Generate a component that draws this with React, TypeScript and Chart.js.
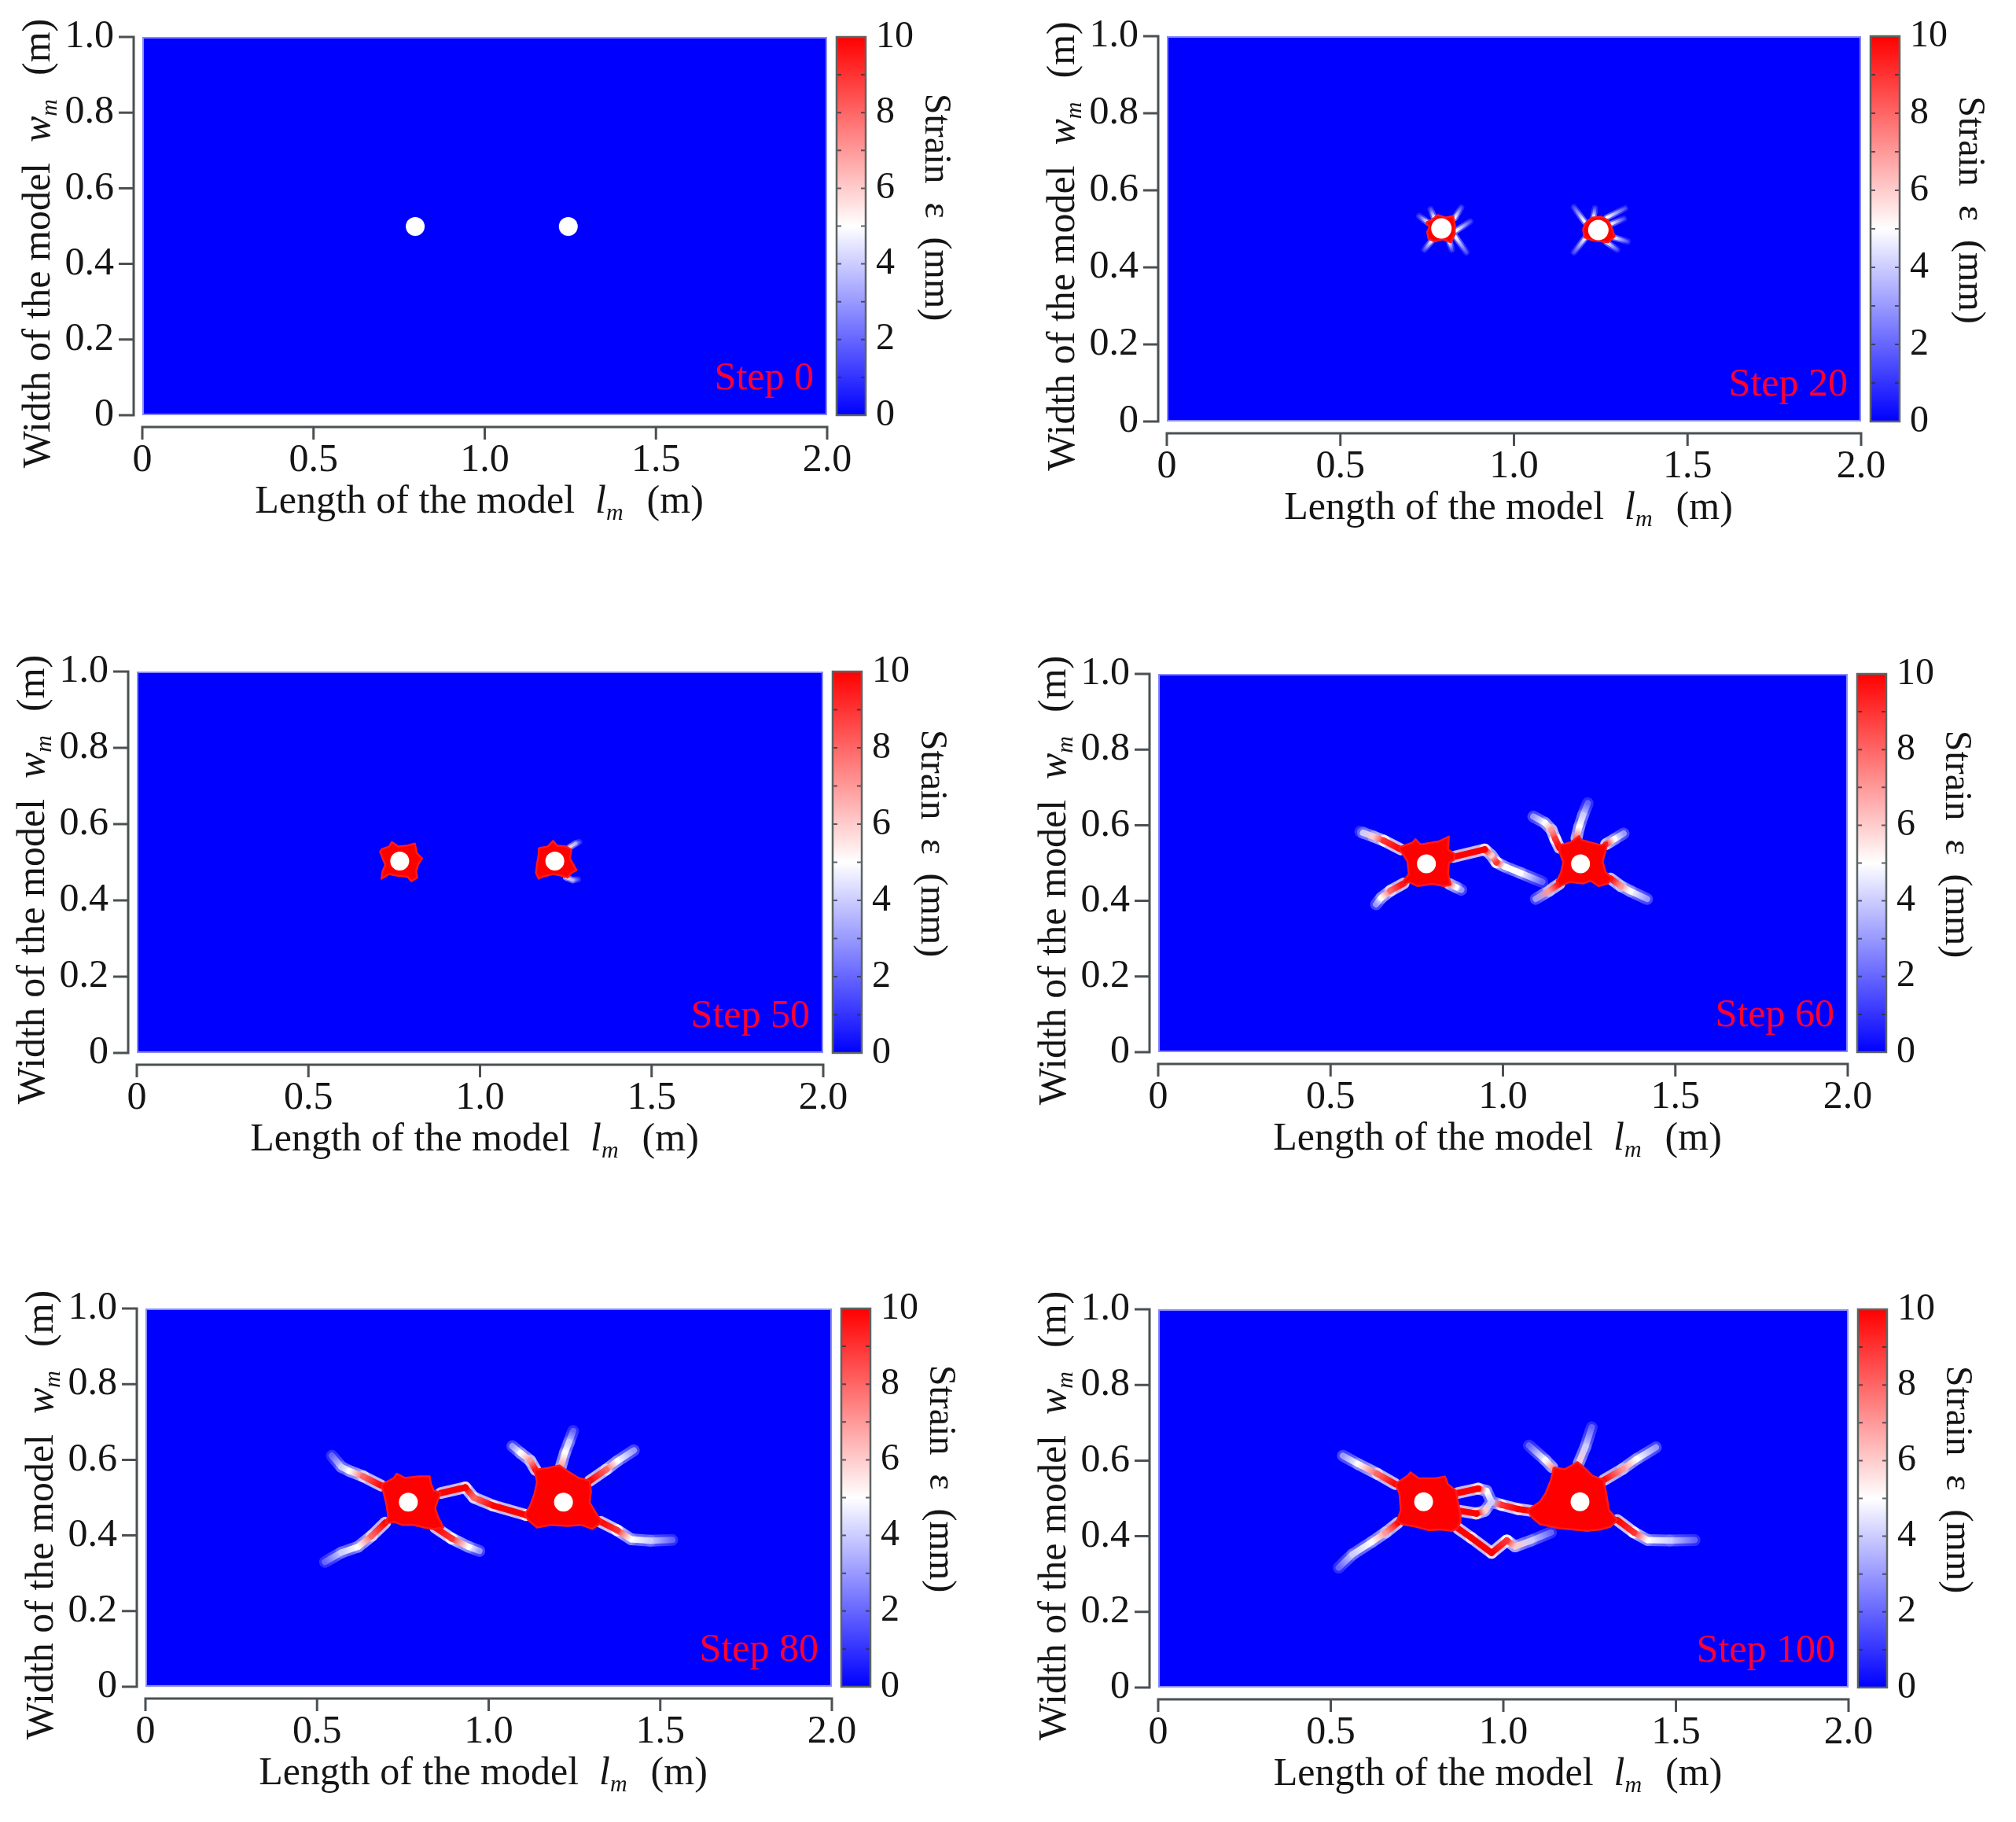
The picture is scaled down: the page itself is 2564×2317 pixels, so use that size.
import React, { useEffect, useRef } from 'react';
import { Chart, registerables } from 'chart.js';

Chart.register(...registerables);

const FONT = "'Liberation Serif', 'Times New Roman', Times, serif";
Chart.defaults.font.family = FONT;

// ---------------- data ----------------
const STEPS = ['Step 0', 'Step 20', 'Step 50', 'Step 60', 'Step 80', 'Step 100'];

const X_TICKS = [0, 0.5, 1, 1.5, 2];
const X_TICK_LABELS = ['0', '0.5', '1.0', '1.5', '2.0'];
const Y_TICKS = [0, 0.2, 0.4, 0.6, 0.8, 1];
const Y_TICK_LABELS = ['0', '0.2', '0.4', '0.6', '0.8', '1.0'];
const CB_TICKS = [0, 2, 4, 6, 8, 10];
const CB_MINOR = [1, 2, 3, 4, 5, 6, 7, 8, 9];

const HOLE_X = [
  [0.797, 1.244],
  [0.791, 1.243],
  [0.766, 1.218],
  [0.778, 1.225],
  [0.766, 1.218],
  [0.769, 1.222],
];
const HOLE_Y = [
  [0.499, 0.499],
  [0.501, 0.497],
  [0.503, 0.503],
  [0.498, 0.498],
  [0.488, 0.488],
  [0.491, 0.491],
];

// damaged (red) zones: polygons [x, y]
const ZONES_20 = [
  [[0.746, 0.516], [0.765, 0.524], [0.78, 0.536], [0.803, 0.529], [0.825, 0.533], [0.83, 0.509], [0.829, 0.485], [0.818, 0.465], [0.795, 0.473], [0.772, 0.467], [0.754, 0.474], [0.75, 0.492], [0.757, 0.505]],
  [[1.207, 0.516], [1.225, 0.529], [1.252, 0.531], [1.271, 0.522], [1.282, 0.502], [1.29, 0.48], [1.271, 0.465], [1.248, 0.468], [1.222, 0.471], [1.203, 0.478], [1.199, 0.499]],
];
const ZONES_50 = [
  [[0.713, 0.534], [0.735, 0.541], [0.743, 0.553], [0.762, 0.541], [0.789, 0.544], [0.81, 0.549], [0.816, 0.524], [0.831, 0.51], [0.819, 0.493], [0.814, 0.476], [0.817, 0.46], [0.8, 0.45], [0.789, 0.462], [0.758, 0.465], [0.735, 0.469], [0.713, 0.457], [0.716, 0.476], [0.724, 0.493], [0.709, 0.527]],
  [[1.171, 0.537], [1.197, 0.541], [1.213, 0.556], [1.224, 0.544], [1.251, 0.541], [1.266, 0.533], [1.262, 0.51], [1.281, 0.479], [1.266, 0.472], [1.255, 0.46], [1.236, 0.465], [1.213, 0.469], [1.182, 0.462], [1.171, 0.457], [1.163, 0.472], [1.167, 0.5], [1.171, 0.52]],
];
const ZONES_60 = [
  [[0.696, 0.54], [0.738, 0.554], [0.746, 0.563], [0.761, 0.549], [0.814, 0.557], [0.843, 0.57], [0.841, 0.536], [0.86, 0.524], [0.858, 0.509], [0.843, 0.5], [0.841, 0.471], [0.848, 0.443], [0.829, 0.439], [0.795, 0.445], [0.753, 0.439], [0.727, 0.45], [0.704, 0.436], [0.712, 0.453], [0.727, 0.471], [0.723, 0.505], [0.708, 0.526]],
  [[1.164, 0.547], [1.194, 0.554], [1.209, 0.563], [1.221, 0.571], [1.228, 0.561], [1.255, 0.554], [1.285, 0.547], [1.302, 0.554], [1.297, 0.529], [1.289, 0.505], [1.297, 0.477], [1.316, 0.46], [1.304, 0.446], [1.278, 0.439], [1.255, 0.453], [1.232, 0.446], [1.194, 0.45], [1.164, 0.439], [1.156, 0.453], [1.168, 0.474], [1.175, 0.502], [1.164, 0.529]],
];
const ZONES_80 = [
  [[0.687, 0.534], [0.724, 0.552], [0.732, 0.563], [0.756, 0.552], [0.796, 0.556], [0.828, 0.556], [0.832, 0.536], [0.84, 0.519], [0.86, 0.512], [0.852, 0.494], [0.844, 0.472], [0.852, 0.45], [0.86, 0.436], [0.868, 0.421], [0.84, 0.417], [0.812, 0.421], [0.78, 0.428], [0.748, 0.428], [0.724, 0.436], [0.699, 0.432], [0.707, 0.45], [0.703, 0.479], [0.695, 0.509]],
  [[1.133, 0.574], [1.17, 0.578], [1.206, 0.585], [1.23, 0.57], [1.262, 0.552], [1.294, 0.545], [1.298, 0.516], [1.294, 0.487], [1.314, 0.457], [1.33, 0.436], [1.302, 0.417], [1.27, 0.428], [1.23, 0.425], [1.182, 0.428], [1.141, 0.421], [1.117, 0.439], [1.105, 0.454], [1.121, 0.479], [1.133, 0.509], [1.141, 0.541]],
];
const ZONES_100 = [
  [[0.687, 0.538], [0.723, 0.56], [0.731, 0.569], [0.755, 0.553], [0.803, 0.553], [0.831, 0.558], [0.839, 0.538], [0.863, 0.52], [0.868, 0.491], [0.875, 0.462], [0.876, 0.44], [0.867, 0.421], [0.851, 0.414], [0.819, 0.418], [0.783, 0.416], [0.747, 0.425], [0.707, 0.432], [0.692, 0.441], [0.703, 0.469], [0.699, 0.513]],
  [[1.146, 0.582], [1.178, 0.577], [1.202, 0.589], [1.214, 0.596], [1.23, 0.585], [1.258, 0.56], [1.29, 0.549], [1.298, 0.513], [1.306, 0.469], [1.33, 0.443], [1.31, 0.425], [1.282, 0.418], [1.242, 0.414], [1.202, 0.418], [1.162, 0.421], [1.106, 0.432], [1.082, 0.451], [1.07, 0.469], [1.106, 0.491], [1.122, 0.513], [1.138, 0.549]],
];

// cracks: polylines [x, y, strain]
const CRACKS_20 = [
  [[0.753, 0.516, 5], [0.727, 0.533, 1.5]],
  [[0.77, 0.529, 5], [0.76, 0.551, 1.5]],
  [[0.829, 0.528, 5], [0.848, 0.555, 1.5]],
  [[0.833, 0.495, 5], [0.874, 0.519, 1.5]],
  [[0.831, 0.48, 5], [0.863, 0.439, 1.5]],
  [[0.814, 0.467, 5], [0.821, 0.446, 1.5]],
  [[0.763, 0.469, 5], [0.742, 0.446, 1.5]],
  [[1.203, 0.519, 5], [1.173, 0.556, 1.5]],
  [[1.229, 0.529, 5], [1.233, 0.553, 1.5]],
  [[1.267, 0.529, 5], [1.32, 0.553, 1.5]],
  [[1.278, 0.512, 5], [1.316, 0.526, 1.5]],
  [[1.286, 0.478, 5], [1.327, 0.467, 1.5]],
  [[1.267, 0.465, 5], [1.297, 0.446, 1.5]],
  [[1.207, 0.478, 5], [1.173, 0.439, 1.5]],
];
const CRACKS_50 = [
  [[1.262, 0.54, 6], [1.278, 0.549, 3.5], [1.289, 0.553, 1.5]],
  [[1.251, 0.46, 6], [1.27, 0.453, 3.5], [1.285, 0.455, 1.5]],
];
const CRACKS_60 = [
  [[0.704, 0.536, 10], [0.655, 0.559, 9], [0.624, 0.57, 6], [0.594, 0.58, 4], [0.586, 0.583, 2]],
  [[0.712, 0.446, 10], [0.674, 0.427, 8], [0.647, 0.408, 5], [0.632, 0.391, 3]],
  [[0.844, 0.445, 8], [0.864, 0.436, 5], [0.879, 0.429, 3]],
  [[0.856, 0.516, 10], [0.947, 0.536, 10], [0.966, 0.521, 6], [0.981, 0.502, 9], [1.004, 0.491, 5], [1.05, 0.474, 5], [1.114, 0.45, 2]],
  [[1.164, 0.54, 10], [1.152, 0.563, 9], [1.141, 0.588, 7], [1.122, 0.606, 5], [1.088, 0.623, 3]],
  [[1.213, 0.565, 8], [1.221, 0.595, 5], [1.232, 0.626, 4], [1.246, 0.658, 2]],
  [[1.299, 0.55, 9], [1.323, 0.563, 5], [1.35, 0.578, 3]],
  [[1.312, 0.459, 10], [1.342, 0.439, 7], [1.369, 0.426, 5], [1.418, 0.405, 3]],
  [[1.164, 0.445, 10], [1.133, 0.426, 7], [1.095, 0.405, 3]],
];
const CRACKS_80 = [
  [[0.687, 0.532, 10], [0.635, 0.556, 8], [0.595, 0.57, 5], [0.571, 0.581, 4], [0.543, 0.611, 2]],
  [[0.699, 0.434, 10], [0.659, 0.399, 8], [0.619, 0.37, 5], [0.571, 0.355, 4], [0.523, 0.33, 2]],
  [[0.844, 0.421, 10], [0.892, 0.392, 9], [0.941, 0.37, 5], [0.973, 0.359, 3]],
  [[0.86, 0.512, 10], [0.932, 0.527, 10], [0.957, 0.5, 8], [1.013, 0.479, 10], [1.109, 0.454, 10], [1.129, 0.457, 10]],
  [[1.137, 0.573, 10], [1.121, 0.598, 7], [1.093, 0.618, 5], [1.069, 0.636, 3]],
  [[1.21, 0.581, 7], [1.222, 0.618, 5], [1.234, 0.647, 4], [1.246, 0.676, 2]],
  [[1.294, 0.544, 10], [1.342, 0.574, 8], [1.374, 0.596, 5], [1.423, 0.625, 3]],
  [[1.326, 0.436, 10], [1.374, 0.414, 9], [1.415, 0.39, 5], [1.471, 0.386, 4], [1.535, 0.388, 2]],
];
const CRACKS_100 = [
  [[0.687, 0.538, 10], [0.635, 0.565, 8], [0.579, 0.591, 5], [0.535, 0.613, 3]],
  [[0.695, 0.436, 10], [0.659, 0.41, 7], [0.619, 0.385, 5], [0.563, 0.352, 4], [0.523, 0.317, 2]],
  [[0.867, 0.514, 10], [0.927, 0.526, 10], [0.951, 0.52, 5], [0.966, 0.491, 4], [0.994, 0.483, 9], [1.042, 0.472, 10], [1.082, 0.467, 10]],
  [[0.875, 0.467, 10], [0.922, 0.46, 10], [0.946, 0.467, 6], [0.962, 0.487, 4]],
  [[0.868, 0.421, 10], [0.907, 0.396, 10], [0.966, 0.356, 10], [1.01, 0.389, 9], [1.034, 0.373, 6], [1.082, 0.389, 4], [1.138, 0.41, 2]],
  [[1.142, 0.582, 7], [1.122, 0.601, 5], [1.074, 0.64, 2]],
  [[1.218, 0.593, 6], [1.238, 0.637, 4], [1.256, 0.688, 2]],
  [[1.29, 0.548, 10], [1.346, 0.578, 7], [1.386, 0.604, 5], [1.442, 0.635, 3]],
  [[1.33, 0.443, 10], [1.378, 0.41, 9], [1.418, 0.39, 5], [1.482, 0.389, 4], [1.554, 0.39, 2]],
];

const ZONES = [[], ZONES_20, ZONES_50, ZONES_60, ZONES_80, ZONES_100];
const CRACKS = [[], CRACKS_20, CRACKS_50, CRACKS_60, CRACKS_80, CRACKS_100];

// ---------------- layout / style ----------------
const BOXES = [
  { L: 181, T: 47, R: 1052, B: 528 },
  { L: 1484, T: 46, R: 2367, B: 536 },
  { L: 174, T: 854, R: 1047, B: 1339 },
  { L: 1473, T: 857, R: 2350, B: 1338 },
  { L: 185, T: 1664, R: 1058, B: 2145 },
  { L: 1473, T: 1665, R: 2351, B: 2146 },
];
const PADL = 175;
const PADR = 210;
const PADT = 46;
const PADB = 150;
const HOLE_R = [12, 13, 12, 12, 12, 12];
const CRACK_W = [0, 4, 4, 8, 8, 8];
const HALO_W = [0, 8, 8, 15, 15, 15];
const AXIS_COLOR = '#4b5053';
const TEXT_COLOR = '#151515';
const STEP_COLOR = '#ff0033';

function strainColor(s: number, alpha = 1) {
  const v = Math.max(0, Math.min(10, s));
  let r: number, g: number, b: number;
  if (v <= 5) {
    const t = v / 5;
    r = Math.round(255 * t);
    g = r;
    b = 255;
  } else {
    const t = (v - 5) / 5;
    r = 255;
    g = Math.round(255 * (1 - t));
    b = g;
  }
  return `rgba(${r},${g},${b},${alpha})`;
}

function segGradient(p0: number[], p1: number[], halo: boolean) {
  return (ctx: any) => {
    const chart = ctx.chart;
    const xs = chart.scales && chart.scales.x;
    const ys = chart.scales && chart.scales.y;
    const s0 = halo ? p0[2] * 0.55 : p0[2];
    const s1 = halo ? p1[2] * 0.55 : p1[2];
    const a = halo ? 0.8 : 1;
    if (!xs || !ys) return strainColor(s0, a);
    const x0 = xs.getPixelForValue(p0[0]);
    const y0 = ys.getPixelForValue(p0[1]);
    const x1 = xs.getPixelForValue(p1[0]);
    const y1 = ys.getPixelForValue(p1[1]);
    if (!isFinite(x0) || !isFinite(y0) || !isFinite(x1) || !isFinite(y1)) return strainColor(s0, a);
    const g = chart.ctx.createLinearGradient(x0, y0, x1, y1);
    g.addColorStop(0, strainColor(s0, a));
    g.addColorStop(1, strainColor(s1, a));
    return g;
  };
}

function buildDatasets(idx: number) {
  const ds: any[] = [];
  ds.push({
    data: HOLE_X[idx].map((x, i) => ({ x, y: HOLE_Y[idx][i] })),
    xAxisID: 'x',
    yAxisID: 'y',
    showLine: false,
    pointRadius: HOLE_R[idx],
    pointBackgroundColor: '#ffffff',
    pointBorderWidth: 0,
    pointBorderColor: '#ffffff',
    order: 0,
  });
  ZONES[idx].forEach((poly) => {
    const pts = poly.map(([x, y]) => ({ x, y }));
    pts.push({ x: poly[0][0], y: poly[0][1] });
    ds.push({
      data: pts,
      xAxisID: 'x',
      yAxisID: 'y',
      showLine: true,
      fill: 'shape',
      backgroundColor: 'rgb(255,0,0)',
      borderColor: 'rgb(255,25,25)',
      borderWidth: 2.5,
      borderJoinStyle: 'round',
      pointRadius: 0,
      tension: 0,
      order: 1,
    });
  });
  CRACKS[idx].forEach((crack) => {
    for (let i = 0; i < crack.length - 1; i++) {
      const p0 = crack[i];
      const p1 = crack[i + 1];
      const data = [{ x: p0[0], y: p0[1] }, { x: p1[0], y: p1[1] }];
      ds.push({
        data,
        xAxisID: 'x',
        yAxisID: 'y',
        showLine: true,
        fill: false,
        borderColor: segGradient(p0, p1, false),
        borderWidth: CRACK_W[idx],
        borderCapStyle: 'round',
        pointRadius: 0,
        tension: 0,
        order: 2,
      });
      ds.push({
        data,
        xAxisID: 'x',
        yAxisID: 'y',
        showLine: true,
        fill: false,
        borderColor: segGradient(p0, p1, true),
        borderWidth: HALO_W[idx],
        borderCapStyle: 'round',
        pointRadius: 0,
        tension: 0,
        order: 3,
      });
    }
  });
  return ds;
}

type Part = { t?: string; f?: string; dy?: number; gap?: number };

function drawRich(ctx: CanvasRenderingContext2D, parts: Part[], cx: number, by: number) {
  let total = 0;
  for (const p of parts) {
    if (p.gap) total += p.gap;
    else {
      ctx.font = p.f as string;
      total += ctx.measureText(p.t as string).width;
    }
  }
  let x = cx - total / 2;
  ctx.textAlign = 'left';
  ctx.textBaseline = 'alphabetic';
  for (const p of parts) {
    if (p.gap) {
      x += p.gap;
      continue;
    }
    ctx.font = p.f as string;
    ctx.fillText(p.t as string, x, by + (p.dy || 0));
    x += ctx.measureText(p.t as string).width;
  }
}

const F50 = `50px ${FONT}`;
const F48 = `48px ${FONT}`;
const I50 = `italic 50px ${FONT}`;
const I30 = `italic 30px ${FONT}`;

const decorPlugin = {
  id: 'panelDecor',
  beforeDatasetsDraw(chart: any) {
    const { ctx, chartArea: a } = chart;
    ctx.save();
    ctx.fillStyle = strainColor(0);
    ctx.fillRect(a.left, a.top, a.right - a.left, a.bottom - a.top);
    ctx.restore();
  },
  afterDatasetsDraw(chart: any, _args: any, opts: any) {
    const { ctx, chartArea: a } = chart;
    ctx.save();
    ctx.strokeStyle = 'rgba(160,160,255,0.85)';
    ctx.lineWidth = 2;
    ctx.strokeRect(a.left + 1, a.top + 1, a.right - a.left - 2, a.bottom - a.top - 2);
    ctx.font = `50px ${FONT}`;
    ctx.fillStyle = STEP_COLOR;
    ctx.textAlign = 'right';
    ctx.textBaseline = 'alphabetic';
    ctx.fillText(opts.step, a.right - 17, a.bottom - 33);
    ctx.restore();
  },
  afterDraw(chart: any) {
    const { ctx, chartArea: a } = chart;
    const xs = chart.scales.x;
    const ys = chart.scales.y;
    const cb = chart.scales.cb;
    ctx.save();
    // axes lines and ticks
    ctx.strokeStyle = AXIS_COLOR;
    ctx.lineWidth = 3;
    ctx.lineCap = 'butt';
    const ax = a.left - 11;
    ctx.beginPath();
    ctx.moveTo(ax, ys.getPixelForValue(1) - 1.5);
    ctx.lineTo(ax, ys.getPixelForValue(0) + 1.5);
    Y_TICKS.forEach((v) => {
      const py = ys.getPixelForValue(v);
      ctx.moveTo(ax - 19, py);
      ctx.lineTo(ax, py);
    });
    const ay = a.bottom + 15;
    ctx.moveTo(xs.getPixelForValue(0) - 1.5, ay);
    ctx.lineTo(xs.getPixelForValue(2) + 1.5, ay);
    X_TICKS.forEach((v) => {
      const px = xs.getPixelForValue(v);
      ctx.moveTo(px, ay);
      ctx.lineTo(px, ay + 16);
    });
    ctx.stroke();

    // axis titles
    ctx.fillStyle = TEXT_COLOR;
    drawRich(
      ctx,
      [{ t: 'Length of the model', f: F50 }, { gap: 26 }, { t: 'l', f: I50 }, { t: 'm', f: I30, dy: 9 }, { gap: 30 }, { t: '(m)', f: F50 }],
      (a.left + a.right) / 2 - 7,
      a.bottom + 124
    );
    ctx.save();
    ctx.translate(a.left - 118, (a.top + a.bottom) / 2 + 22);
    ctx.rotate(-Math.PI / 2);
    drawRich(
      ctx,
      [{ t: 'Width of the model', f: F50 }, { gap: 26 }, { t: 'w', f: I50 }, { t: 'm', f: I30, dy: 9 }, { gap: 30 }, { t: '(m)', f: F50 }],
      0,
      0
    );
    ctx.restore();

    // colour bar
    const yTop = cb.getPixelForValue(10);
    const yBot = cb.getPixelForValue(0);
    const x0 = a.right + 12;
    const w = 37;
    const g = ctx.createLinearGradient(0, yBot, 0, yTop);
    for (let i = 0; i <= 10; i++) g.addColorStop(i / 10, strainColor(i));
    ctx.fillStyle = g;
    ctx.fillRect(x0, yTop, w, yBot - yTop);
    ctx.strokeStyle = 'rgba(45,45,60,0.75)';
    ctx.lineWidth = 2;
    ctx.beginPath();
    CB_MINOR.forEach((v) => {
      const py = cb.getPixelForValue(v);
      ctx.moveTo(x0, py);
      ctx.lineTo(x0 + 6, py);
      ctx.moveTo(x0 + w - 6, py);
      ctx.lineTo(x0 + w, py);
    });
    ctx.stroke();
    ctx.strokeStyle = '#5c6463';
    ctx.lineWidth = 2.5;
    ctx.strokeRect(x0, yTop, w, yBot - yTop);

    // colour bar title (reads top to bottom)
    ctx.save();
    ctx.fillStyle = TEXT_COLOR;
    ctx.translate(a.right + 125, (yTop + yBot) / 2 - 24);
    ctx.rotate(Math.PI / 2);
    drawRich(ctx, [{ t: 'Strain', f: F48 }, { gap: 24 }, { t: 'ε', f: F48 }, { gap: 24 }, { t: '(mm)', f: F48 }], 0, 0);
    ctx.restore();
    ctx.restore();
  },
};

function zeroPad(s: any) {
  s.paddingTop = 0;
  s.paddingBottom = 0;
  s.paddingLeft = 0;
  s.paddingRight = 0;
}

function makeConfig(idx: number): any {
  const tickFont = { family: FONT, size: 50 };
  const cbFont = { family: FONT, size: 48 };
  return {
    type: 'scatter',
    data: { datasets: buildDatasets(idx) },
    options: {
      animation: false,
      responsive: false,
      maintainAspectRatio: false,
      devicePixelRatio: 1,
      events: [],
      layout: { padding: { top: PADT, left: 0, right: 0, bottom: 0 } },
      plugins: {
        legend: { display: false },
        tooltip: { enabled: false },
        panelDecor: { step: STEPS[idx] },
      },
      scales: {
        x: {
          type: 'linear',
          position: 'bottom',
          min: 0,
          max: 2,
          grid: { display: false, drawTicks: false },
          border: { display: false },
          afterBuildTicks: (s: any) => {
            s.ticks = X_TICKS.map((v) => ({ value: v }));
          },
          afterFit: (s: any) => {
            s.height = PADB;
            zeroPad(s);
          },
          ticks: {
            padding: 28,
            font: tickFont,
            color: TEXT_COLOR,
            maxRotation: 0,
            minRotation: 0,
            autoSkip: false,
            callback: (_v: any, i: number) => X_TICK_LABELS[i],
          },
        },
        y: {
          type: 'linear',
          position: 'left',
          min: 0,
          max: 1,
          grid: { display: false, drawTicks: false },
          border: { display: false },
          afterBuildTicks: (s: any) => {
            s.ticks = Y_TICKS.map((v) => ({ value: v }));
          },
          afterFit: (s: any) => {
            s.width = PADL;
            zeroPad(s);
          },
          ticks: {
            padding: 36,
            font: tickFont,
            color: TEXT_COLOR,
            autoSkip: false,
            callback: (_v: any, i: number) => Y_TICK_LABELS[i],
          },
        },
        cb: {
          type: 'linear',
          axis: 'y',
          position: 'right',
          min: 0,
          max: 10,
          grid: { display: false, drawTicks: false },
          border: { display: false },
          afterBuildTicks: (s: any) => {
            s.ticks = CB_TICKS.map((v) => ({ value: v }));
          },
          afterFit: (s: any) => {
            s.width = PADR;
            zeroPad(s);
          },
          ticks: {
            padding: 62,
            font: cbFont,
            color: TEXT_COLOR,
            autoSkip: false,
            callback: (v: any) => String(v),
          },
          title: { display: false },
        },
      },
    },
    plugins: [decorPlugin],
  };
}

function Panel({ idx }: { idx: number }) {
  const ref = useRef<HTMLCanvasElement>(null);
  useEffect(() => {
    if (!ref.current) return;
    const chart = new Chart(ref.current, makeConfig(idx));
    return () => chart.destroy();
  }, [idx]);
  const b = BOXES[idx];
  const w = b.R - b.L + PADL + PADR;
  const h = b.B - b.T + PADT + PADB;
  return (
    <canvas
      ref={ref}
      width={w}
      height={h}
      style={{ position: 'absolute', left: b.L - PADL - 8, top: b.T - PADT - 8, width: w, height: h }}
    />
  );
}

export default function App() {
  return (
    <div style={{ position: 'relative', width: 2548, height: 2300, background: '#ffffff' }}>
      {BOXES.map((_b, i) => (
        <Panel key={i} idx={i} />
      ))}
    </div>
  );
}
